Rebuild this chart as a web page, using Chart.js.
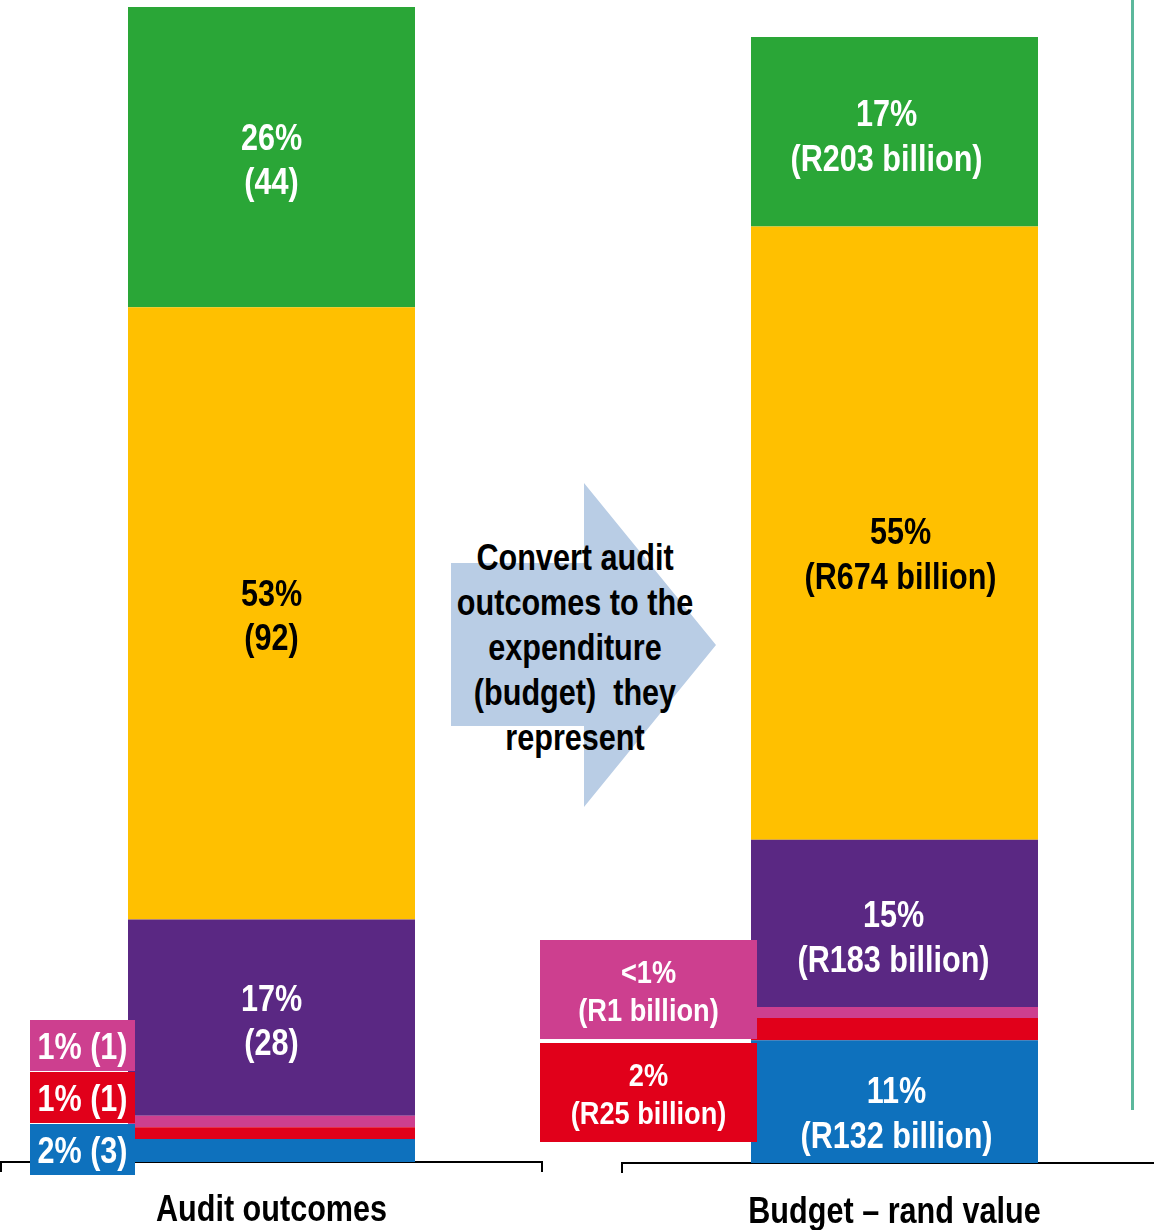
<!DOCTYPE html>
<html>
<head>
<meta charset="utf-8">
<script src="https://cdn.jsdelivr.net/npm/chart.js@4.4.1/dist/chart.umd.min.js"></script>
<style>
  html, body { margin: 0; padding: 0; background: #fff; }
  body { width: 1154px; height: 1230px; position: relative; overflow: hidden; }
  #arrow { position: absolute; left: 0; top: 0; }
  #arrowText {
    position: absolute; left: 375px; top: 535px; width: 400px;
    text-align: center; white-space: pre; color: #000;
    font: bold 36px 'Liberation Sans', Arial, sans-serif;
    line-height: 45px;
    transform: scaleX(0.85); transform-origin: 50% 0;
  }
  #leftChart { position: absolute; left: 0; top: 0; }
  #rightChart { position: absolute; left: 530px; top: 0; }
  #divider { position: absolute; left: 1131px; top: 0; width: 3px; height: 1110px; background: #5cb89c; }
</style>
</head>
<body>
<svg id="arrow" width="1154" height="1230">
  <polygon points="451,563 584,563 584,483 716,645 584,807 584,726 451,726" fill="#b9cde5"/>
</svg>
<div id="arrowText">Convert audit
outcomes to the
expenditure
(budget)  they
represent</div>
<canvas id="leftChart" width="543" height="1230"></canvas>
<canvas id="rightChart" width="637" height="1230"></canvas>
<div id="divider"></div>

<script>
// Segments, stacked bottom to top
const segmentNames = ['Outstanding audits', 'Disclaimed', 'Adverse', 'Qualified',
                      'Unqualified with findings', 'Unqualified with no findings'];
const auditPct = [2, 1, 1, 17, 53, 26];
const auditCount = [3, 1, 1, 28, 92, 44];
const budgetPct = [11, 2, 1, 15, 55, 17];
const budgetPctText = ['11%', '2%', '<1%', '15%', '55%', '17%'];
const budgetRand = [132, 25, 1, 183, 674, 203];
const axisLabels = ['Audit outcomes', 'Budget – rand value'];

// Styling
const segmentColors = ['#0e71bd', '#e1001a', '#cd3f8f', '#5a2883', '#ffc000', '#2aa637'];
const textColors = ['#fff', '#fff', '#fff', '#fff', '#000', '#fff'];
const auditCallout = [true, true, true, false, false, false];
const budgetCallout = [false, true, true, false, false, false];
const FONT = "'Liberation Sans', Arial, sans-serif";
const NARROW = 0.85;   // horizontal squeeze giving a narrow bold face

function fontSpec(size) { return 'bold ' + size + 'px ' + FONT; }

// Text drawn in a condensed width, centred on (x, y)
function narrowText(ctx, text, x, y) {
  ctx.save();
  ctx.translate(x, y);
  ctx.scale(NARROW, 1);
  ctx.fillText(text, 0, 0);
  ctx.restore();
}

// Draws value labels inside the bar segments, callout boxes beside the bar,
// and the category name under the axis
function segmentLabels(cfg) {
  return {
    id: 'segmentLabels',
    afterDraw(chart) {
      const ctx = chart.ctx;
      const area = chart.chartArea;
      ctx.save();
      ctx.textAlign = 'center';
      ctx.textBaseline = 'middle';
      let k = 0;
      chart.data.datasets.forEach((ds, i) => {
        const bar = chart.getDatasetMeta(i).data[0];
        if (cfg.callout[i]) {
          const bottom = area.bottom + cfg.box.bottom - k * cfg.box.step;
          const top = bottom - cfg.box.height;
          ctx.fillStyle = segmentColors[i];
          ctx.fillRect(cfg.box.x0, top, cfg.box.x1 - cfg.box.x0, cfg.box.height);
          ctx.fillStyle = textColors[i];
          ctx.font = fontSpec(cfg.box.fontSize);
          const lines = cfg.calloutLines(i);
          const cx = (cfg.box.x0 + cfg.box.x1) / 2;
          const cy = (top + bottom) / 2 + cfg.box.shiftY;
          lines.forEach((t, j) => {
            narrowText(ctx, t, cx, cy + (j - (lines.length - 1) / 2) * cfg.box.lineHeight);
          });
          k++;
        } else {
          ctx.fillStyle = textColors[i];
          ctx.font = fontSpec(cfg.fontSize);
          const lines = cfg.barLines(i);
          const cx = bar.x + cfg.shiftX[i];
          const cy = (bar.y + bar.base) / 2 + cfg.shiftY[i];
          lines.forEach((t, j) => {
            narrowText(ctx, t, cx, cy + (j - (lines.length - 1) / 2) * cfg.lineHeight);
          });
        }
      });
      // category name below the axis line
      const xScale = chart.scales.x;
      ctx.fillStyle = '#000';
      ctx.font = fontSpec(36);
      chart.data.labels.forEach((lab, t) => {
        narrowText(ctx, lab, xScale.getPixelForTick(t), area.bottom + cfg.axisLabelDy);
      });
      ctx.restore();
    }
  };
}

function makeChart(id, label, values, yMax, padTop, padLeft, padRight, axisHeight, barPct, labelCfg) {
  return new Chart(document.getElementById(id), {
    type: 'bar',
    data: {
      labels: [label],
      datasets: values.map((v, i) => ({
        label: segmentNames[i],
        data: [v],
        backgroundColor: segmentColors[i],
        borderWidth: 0,
        barPercentage: barPct,
        categoryPercentage: 1
      }))
    },
    options: {
      responsive: false,
      animation: false,
      devicePixelRatio: 1,
      layout: { padding: { top: padTop, left: padLeft, right: padRight, bottom: 0 } },
      plugins: { legend: { display: false }, tooltip: { enabled: false } },
      scales: {
        x: {
          stacked: true,
          offset: true,
          border: { display: true, color: '#000', width: 2 },
          grid: { offset: true, drawOnChartArea: false, drawTicks: true, tickLength: 10, color: '#000', lineWidth: 2 },
          ticks: { display: false },
          afterFit(scale) { scale.height = axisHeight; }
        },
        y: { stacked: true, display: false, min: 0, max: yMax }
      }
    },
    plugins: [segmentLabels(labelCfg)]
  });
}

// Left: audit outcomes by number of auditees
makeChart('leftChart', axisLabels[0], auditPct, 100, 7, 1, 1, 1230 - 1162, 287 / 541, {
  callout: auditCallout,
  fontSize: 36,
  lineHeight: 44,
  shiftX: [0, 0, 0, 0, 0, 0],
  shiftY: [0, 0, 0, 5, 5, 5],
  barLines: i => [auditPct[i] + '%', '(' + auditCount[i] + ')'],
  calloutLines: i => [auditPct[i] + '% (' + auditCount[i] + ')'],
  box: { x0: 30, x1: 135, bottom: 13, height: 51, step: 52, fontSize: 36, lineHeight: 44, shiftY: 4 },
  axisLabelDy: 49
});

// Right: the same outcomes weighted by budget
makeChart('rightChart', axisLabels[1], budgetPct, 101, 37, 92, 0, 1230 - 1163, 287 / 545, {
  callout: budgetCallout,
  fontSize: 36,
  lineHeight: 45,
  shiftX: [2, 0, 0, -1, 6, -8],
  shiftY: [14, 0, 0, 16, 23, 7],
  barLines: i => [budgetPctText[i], '(R' + budgetRand[i] + ' billion)'],
  calloutLines: i => [budgetPctText[i], '(R' + budgetRand[i] + ' billion)'],
  box: { x0: 10, x1: 227, bottom: -21, height: 99, step: 103, fontSize: 32, lineHeight: 38, shiftY: 4 },
  axisLabelDy: 50
});
</script>
</body>
</html>
